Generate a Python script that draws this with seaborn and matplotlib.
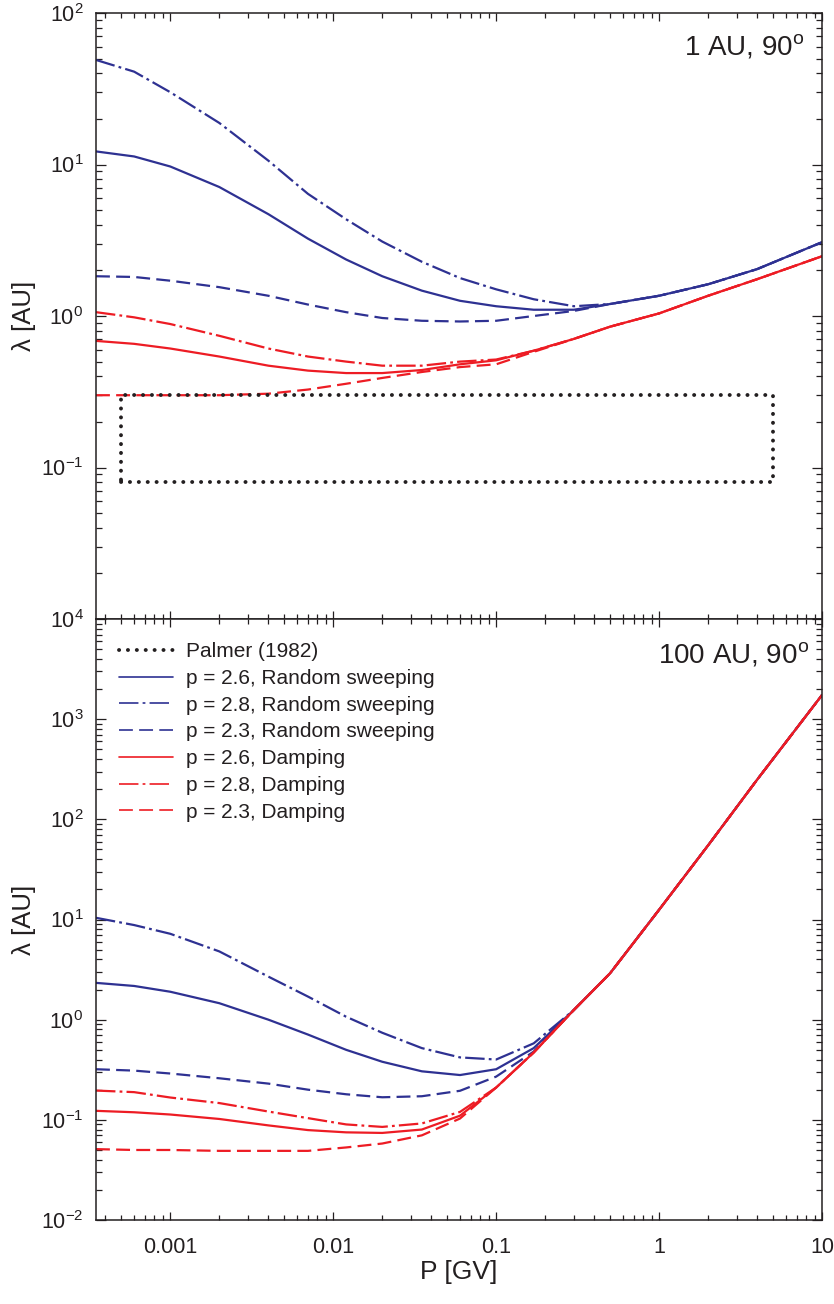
import numpy as np
import pandas as pd
import matplotlib
matplotlib.use("Agg")
import matplotlib.pyplot as plt
from matplotlib.lines import Line2D
from matplotlib import ticker
import seaborn as sns

# ---------------- data ----------------
P = [3.5e-4, 6e-4, 0.001, 0.002, 0.004, 0.007, 0.012, 0.02, 0.035, 0.06,
     0.1, 0.17, 0.3, 0.5, 1, 2, 4, 10]

# Top panel: 1 AU, 90 deg
top_rs_26 = [12.2, 11.3, 9.7, 7.1, 4.7, 3.24, 2.36, 1.83, 1.47, 1.26,
             1.16, 1.1, 1.1, 1.2, 1.36, 1.62, 2.04, 3.07]
top_rs_28 = [49, 41, 30, 18.8, 10.6, 6.4, 4.35, 3.1, 2.28, 1.78,
             1.5, 1.29, 1.16, 1.2, 1.36, 1.62, 2.04, 3.07]
top_rs_23 = [1.83, 1.81, 1.71, 1.55, 1.36, 1.19, 1.06, 0.97, 0.93, 0.92,
             0.93, 1.0, 1.08, 1.2, 1.36, 1.62, 2.04, 3.07]
top_d_26 = [0.685, 0.655, 0.61, 0.54, 0.47, 0.436, 0.42, 0.42, 0.44, 0.48,
            0.51, 0.59, 0.706, 0.85, 1.04, 1.36, 1.75, 2.48]
top_d_28 = [1.06, 0.98, 0.885, 0.74, 0.61, 0.54, 0.50, 0.47, 0.47, 0.50,
            0.516, 0.59, 0.706, 0.85, 1.04, 1.36, 1.75, 2.48]
top_d_23 = [0.30, 0.30, 0.30, 0.30, 0.307, 0.327, 0.357, 0.39, 0.427, 0.46,
            0.48, 0.58, 0.706, 0.85, 1.04, 1.36, 1.75, 2.48]

# Bottom panel: 100 AU, 90 deg
bot_rs_26 = [2.33, 2.17, 1.9, 1.46, 1.0, 0.71, 0.50, 0.38, 0.305, 0.28,
             0.32, 0.52, 1.25, 2.9, 12.5, 55, 249, 1740]
bot_rs_28 = [10.4, 8.8, 7.2, 4.8, 2.69, 1.7, 1.07, 0.74, 0.52, 0.42,
             0.40, 0.58, 1.25, 2.9, 12.5, 55, 249, 1740]
bot_rs_23 = [0.32, 0.31, 0.29, 0.26, 0.23, 0.20, 0.18, 0.168, 0.172, 0.195,
             0.27, 0.48, 1.25, 2.9, 12.5, 55, 249, 1740]
bot_d_26 = [0.123, 0.119, 0.113, 0.102, 0.088, 0.079, 0.075, 0.074, 0.08, 0.11,
            0.21, 0.47, 1.25, 2.9, 12.5, 55, 249, 1740]
bot_d_28 = [0.196, 0.189, 0.167, 0.147, 0.121, 0.104, 0.09, 0.085, 0.092, 0.12,
            0.21, 0.47, 1.25, 2.9, 12.5, 55, 249, 1740]
bot_d_23 = [0.051, 0.050, 0.050, 0.049, 0.049, 0.049, 0.053, 0.058, 0.07, 0.103,
            0.21, 0.47, 1.25, 2.9, 12.5, 55, 249, 1740]

# Palmer (1982) consensus box
palmer_P = [5e-4, 5.0]
palmer_lambda = [0.08, 0.3]

series_names = ["p = 2.6, Random sweeping", "p = 2.8, Random sweeping",
                "p = 2.3, Random sweeping", "p = 2.6, Damping",
                "p = 2.8, Damping", "p = 2.3, Damping"]
palmer_label = "Palmer (1982)"
panel_titles = ["1 AU, 90$^{\\mathrm{o}}$", "100 AU, 90$^{\\mathrm{o}}$"]
xtick_values = [0.001, 0.01, 0.1, 1, 10]
xtick_labels = ["0.001", "0.01", "0.1", "1", "10"]
xlabel = "P [GV]"
ylabel = "λ [AU]"

# ---------------- style ----------------
sns.set_style("ticks")
plt.rcParams["font.family"] = ["Liberation Sans", "DejaVu Sans"]
plt.rcParams["mathtext.fontset"] = "custom"
plt.rcParams["mathtext.rm"] = "Liberation Sans"
plt.rcParams["mathtext.it"] = "Liberation Sans:italic"
plt.rcParams["mathtext.bf"] = "Liberation Sans:bold"
plt.rcParams["lines.scale_dashes"] = False

TXT = "#231F20"
BLUE = "#2E3192"
RED = "#ED1C24"
DASHDOT = (14, 3, 2, 3)
DASHED = (10, 4.5)
palette = dict(zip(series_names, [BLUE, BLUE, BLUE, RED, RED, RED]))
dash_styles = dict(zip(series_names, ["", DASHDOT, DASHED,
                                      "", DASHDOT, DASHED]))

fig = plt.figure(figsize=(8.34, 13.04), dpi=100)
L, R = 96 / 834, 822 / 834
ax_top = fig.add_axes([L, 1 - 619 / 1304, R - L, (619 - 13) / 1304])
ax_bot = fig.add_axes([L, 1 - 1220 / 1304, R - L, (1220 - 619) / 1304])

top_vals = [top_rs_26, top_rs_28, top_rs_23, top_d_26, top_d_28, top_d_23]
bot_vals = [bot_rs_26, bot_rs_28, bot_rs_23, bot_d_26, bot_d_28, bot_d_23]


def long_frame(vals):
    frames = [pd.DataFrame({"P": P, "lam": v, "series": n})
              for n, v in zip(series_names, vals)]
    return pd.concat(frames, ignore_index=True)


for ax, vals, ylim in [(ax_top, top_vals, (1e-2, 1e2)),
                       (ax_bot, bot_vals, (1e-2, 1e4))]:
    ax.set_xscale("log")
    ax.set_yscale("log")
    sns.lineplot(data=long_frame(vals), x="P", y="lam", hue="series",
                 style="series", hue_order=series_names,
                 style_order=series_names, palette=palette,
                 dashes=dash_styles, estimator=None, sort=False,
                 legend=False, linewidth=1.6, ax=ax)
    ax.set_xlim(3.5e-4, 10)
    ax.set_ylim(*ylim)

# Palmer box
bx = [palmer_P[0], palmer_P[1], palmer_P[1], palmer_P[0], palmer_P[0]]
by = [palmer_lambda[0], palmer_lambda[0], palmer_lambda[1], palmer_lambda[1],
      palmer_lambda[0]]
palmer_style = dict(color="#231F20", linewidth=2.8, dashes=(0.1, 6.3),
                    dash_capstyle="round")
ax_top.plot(bx, by, **palmer_style)

for ax in (ax_top, ax_bot):
    for s in ax.spines.values():
        s.set_linewidth(1.1)
        s.set_color(TXT)
    ax.yaxis.set_major_locator(ticker.LogLocator(base=10, numticks=20))
    ax.yaxis.set_minor_locator(ticker.LogLocator(base=10, subs=np.arange(2, 10), numticks=20))
    ax.yaxis.set_minor_formatter(ticker.NullFormatter())
    ax.xaxis.set_major_locator(ticker.FixedLocator(xtick_values))
    ax.xaxis.set_minor_locator(ticker.LogLocator(base=10, subs=np.arange(2, 10), numticks=20))
    ax.xaxis.set_minor_formatter(ticker.NullFormatter())
    ax.tick_params(which="both", direction="in", top=True, right=True,
                   colors=TXT, width=0.9, labelsize=15.5, labelcolor=TXT)
    ax.tick_params(axis="y", which="major", length=7.2, pad=9)
    ax.tick_params(axis="y", which="minor", length=4.0)
    ax.tick_params(axis="x", which="major", length=5.5, pad=12)
    ax.tick_params(axis="x", which="minor", length=3.3)
    ax.set_xlabel("")
    ax.set_ylabel(ylabel, fontsize=18.5, color=TXT)
    ax.yaxis.set_label_coords(-0.082, 0.5)


def ylab(lowest):
    def f(v, pos):
        if v <= lowest * 1.01:
            return ""
        return "$\\mathdefault{10^{%d}}$" % int(round(np.log10(v)))
    return ticker.FuncFormatter(f)


ax_top.yaxis.set_major_formatter(ylab(1e-2))   # lowest label hidden (shared edge)
ax_bot.yaxis.set_major_formatter(ylab(1e-3))

ax_top.xaxis.set_major_formatter(ticker.NullFormatter())
ax_bot.xaxis.set_major_formatter(ticker.FixedFormatter(xtick_labels))
ax_bot.set_xlabel(xlabel, fontsize=19, color=TXT)
ax_bot.xaxis.set_label_coords(0.5, -0.066)

ax_top.text(0.975, 0.931, panel_titles[0], transform=ax_top.transAxes,
            ha="right", va="baseline", fontsize=20, color=TXT)
ax_bot.text(0.982, 0.928, panel_titles[1], transform=ax_bot.transAxes,
            ha="right", va="baseline", fontsize=20, color=TXT)

# legend in bottom panel
handles = [Line2D([], [], **palmer_style, label=palmer_label)]
for name in series_names:
    h = Line2D([], [], color=palette[name], linewidth=1.2, label=name)
    if dash_styles[name]:
        h.set_dashes(dash_styles[name])
    handles.append(h)
leg = ax_bot.legend(handles=handles, loc="upper left", frameon=False,
                    fontsize=15, handlelength=2.6, handletextpad=0.6,
                    labelspacing=0.37, borderaxespad=0.0,
                    bbox_to_anchor=(0.02, 0.975))
for t in leg.get_texts():
    t.set_color(TXT)

fig.savefig("out.png", dpi=100)
